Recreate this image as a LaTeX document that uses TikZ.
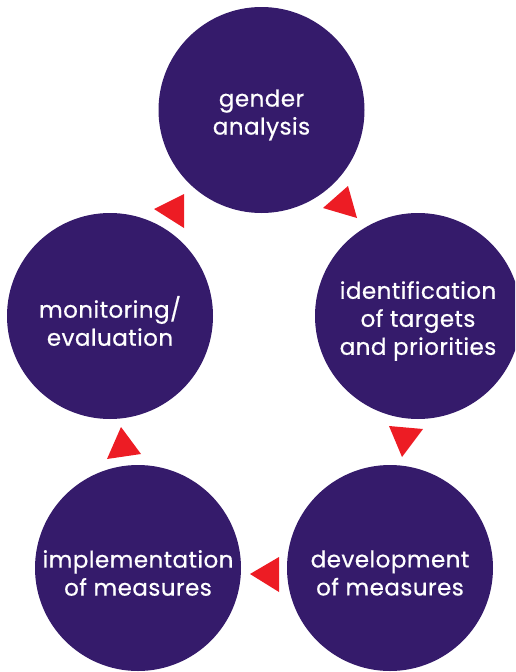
\documentclass[tikz,border=0pt]{standalone}
\usepackage{fontspec}
\setmainfont{Poppins}[LetterSpace=2.0, FakeBold=0.6]
\usetikzlibrary{positioning}
\definecolor{stagepurple}{RGB}{53,27,107}
\definecolor{cyclered}{RGB}{237,28,36}
\tikzset{
  stage/.style={circle, fill=stagepurple, minimum size=206pt, inner sep=0pt},
  stagetext/.style={text=white, align=center, yshift=-5pt, font=\fontsize{23}{28}\selectfont},
  pointer/.style={fill=cyclered, draw=none}
}
\begin{document}
\begin{tikzpicture}[x=1pt, y=-1pt]
    \useasboundingbox (0,0) rectangle (515,672);
    \clip (0,0) rectangle (515,672);
    \node[stage, label={[stagetext]center:gender\\analysis}] (gender) at (261.5,110) {};
    \node[stage, label={[stagetext]center:identification\\of targets\\and priorities}] (targets) at (418,316) {};
    \node[stage, label={[stagetext]center:monitoring/\\evaluation}] (monitoring) at (110,316) {};
    \node[stage, label={[stagetext]center:implementation\\of measures}] (implementation) at (138,568) {};
    \node[stage, label={[stagetext]center:development\\of measures}] (development) at (390,568) {};
    % red pointers between the stages
    \fill[pointer] (323,208) -- (348,186) -- (357,218) -- cycle;
    \fill[pointer] (389,426) -- (423,429) -- (402,457) -- cycle;
    \fill[pointer] (250,574) -- (279,557) -- (279,592) -- cycle;
    \fill[pointer] (107,459) -- (141,454) -- (121,427) -- cycle;
    \fill[pointer] (154,209) -- (184,194) -- (184,228) -- cycle;
  \end{tikzpicture}
\end{document}
